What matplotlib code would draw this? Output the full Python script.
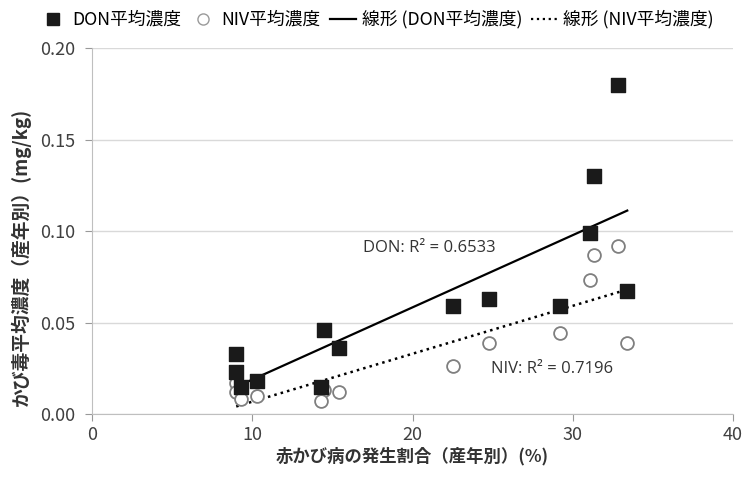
import matplotlib
matplotlib.use("Agg")
import matplotlib.pyplot as plt
from matplotlib.lines import Line2D
import numpy as np

plt.rcParams["font.family"] = ["Noto Sans CJK JP", "DejaVu Sans"]

# 赤かび病の発生割合 (%) と DON / NIV 平均濃度 (mg/kg)
don_x = [9.0, 9.0, 9.3, 10.3, 14.5, 15.4, 14.3, 32.8, 31.3, 31.1, 33.4, 22.5, 24.8, 29.2]
don_y = [0.033, 0.023, 0.015, 0.018, 0.046, 0.036, 0.015, 0.180, 0.130, 0.099, 0.067, 0.059, 0.063, 0.059]
niv_x = [9.0, 9.0, 9.3, 10.3, 14.5, 15.4, 14.3, 32.8, 31.3, 31.1, 33.4, 22.5, 24.8, 29.2]
niv_y = [0.017, 0.012, 0.008, 0.010, 0.013, 0.012, 0.007, 0.092, 0.087, 0.073, 0.039, 0.026, 0.039, 0.044]

x_ticks = [0, 10, 20, 30, 40]
y_ticks = [0.00, 0.05, 0.10, 0.15, 0.20]

fig = plt.figure(figsize=(7.46, 4.80), dpi=100)
ax = fig.add_axes([0.1233, 0.1375, 0.8593, 0.7625])

# trend lines (least squares over each series' range)
for xs, ys, ls in ((don_x, don_y, "-"), (niv_x, niv_y, ":")):
    xs = np.asarray(xs); ys = np.asarray(ys)
    k, b = np.polyfit(xs, ys, 1)
    xl = np.array([xs.min(), xs.max()])
    ax.plot(xl, k * xl + b, color="black", lw=1.6 if ls == "-" else 1.8,
            linestyle=ls, zorder=2)

ax.scatter(niv_x, niv_y, s=85, marker="o", facecolor="white",
           edgecolor="#7f7f7f", linewidths=1.3, zorder=3)
ax.scatter(don_x, don_y, s=100, marker="s", color="#1a1a1a", zorder=4)

ax.text(16.9, 0.0905, "DON: R² = 0.6533", fontsize=12, color="#333333",
        va="center", family=["Open Sans", "DejaVu Sans"])
ax.text(24.9, 0.0245, "NIV: R² = 0.7196", fontsize=12, color="#333333",
        va="center", family=["Open Sans", "DejaVu Sans"])

ax.set_xlim(0, 40)
ax.set_ylim(0, 0.20)
ax.set_xticks(x_ticks)
ax.set_yticks(y_ticks)
ax.set_xticklabels([str(t) for t in x_ticks])
ax.set_yticklabels(["{:.2f}".format(t) for t in y_ticks])
ax.tick_params(labelsize=13, colors="#999999", labelcolor="#404040", length=5)
ax.tick_params(axis="y", pad=7)
ax.grid(axis="y", color="#d9d9d9", lw=1)
ax.set_axisbelow(True)
for side in ("top", "right"):
    ax.spines[side].set_visible(False)
for side in ("left", "bottom"):
    ax.spines[side].set_color("#bfbfbf")

ax.set_xlabel("赤かび病の発生割合（産年別）(%)", fontsize=12.5, fontweight="bold",
              color="#333333", labelpad=2)
ax.set_ylabel("かび毒平均濃度（産年別）(mg/kg)", fontsize=13.5, fontweight="bold",
              color="#333333")
ax.yaxis.set_label_coords(-0.095, 0.43)

handles = [
    Line2D([], [], marker="s", linestyle="", color="#1a1a1a", markersize=8,
           label="DON平均濃度"),
    Line2D([], [], marker="o", linestyle="", markerfacecolor="white",
           markeredgecolor="#9a9a9a", markersize=8, label="NIV平均濃度"),
    Line2D([], [], color="black", lw=1.6, label="線形 (DON平均濃度)"),
    Line2D([], [], color="black", lw=1.6, linestyle=":", label="線形 (NIV平均濃度)"),
]
fig.legend(handles=handles, loc="upper center", bbox_to_anchor=(0.505, 1.012), ncol=4,
           frameon=False, fontsize=12.8, handlelength=1.5, handletextpad=0.3,
           columnspacing=0.5)

fig.savefig("out.png", dpi=100)
